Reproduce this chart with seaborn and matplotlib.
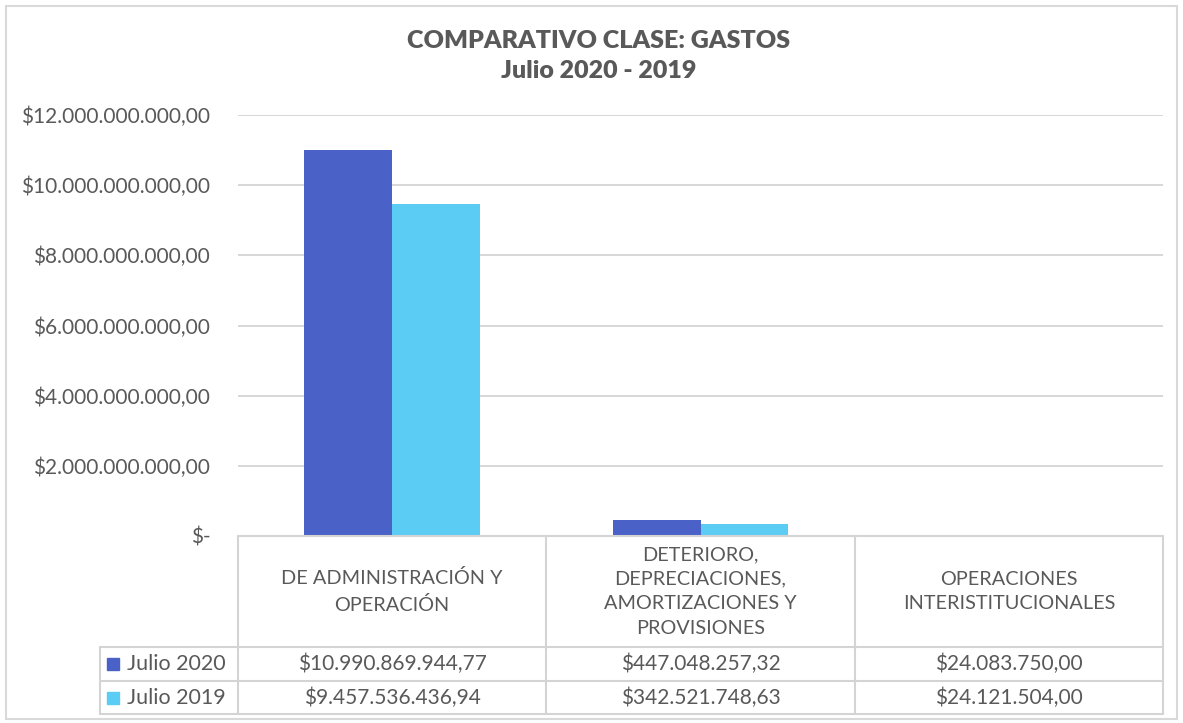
import pandas as pd
import matplotlib.pyplot as plt
import seaborn as sns
from matplotlib.transforms import blended_transform_factory
from matplotlib.patches import Rectangle

# Datos del gráfico
categorias = [
    "DE ADMINISTRACIÓN Y\nOPERACIÓN",
    "DETERIORO,\nDEPRECIACIONES,\nAMORTIZACIONES Y\nPROVISIONES",
    "OPERACIONES\nINTERISTITUCIONALES",
]
periodos = ["Julio 2020", "Julio 2019"]
julio_2020 = [10990869944.77, 447048257.32, 24083750.00]
julio_2019 = [9457536436.94, 342521748.63, 24121504.00]
colores = ["#4A62C7", "#5BCCF4"]
y_ticks = [0, 2e9, 4e9, 6e9, 8e9, 10e9, 12e9]


def pesos(v):
    s = f"{v:,.2f}"
    return "$" + s.replace(",", "X").replace(".", ",").replace("X", ".")


data = pd.DataFrame({
    "categoria": categorias * 2,
    "periodo": [periodos[0]] * 3 + [periodos[1]] * 3,
    "valor": julio_2020 + julio_2019,
})

sns.set_theme(style="white")
plt.rcParams["font.family"] = ["Lato", "DejaVu Sans"]
gris = "#595959"
linea = "#D4D4D4"

W, H = 1183, 723
fig = plt.figure(figsize=(W / 100, H / 100), dpi=100)
ax = fig.add_axes([238 / W, 1 - 536 / H, (1163 - 238) / W, (536 - 115) / H])

sns.barplot(data=data, x="categoria", y="valor", hue="periodo",
            hue_order=periodos, palette=colores, width=0.57,
            saturation=1, linewidth=0, legend=False, ax=ax)

ax.set_xlim(-0.5, 2.5)
ax.set_ylim(0, 12e9)
ax.set_yticks(y_ticks)
ax.set_yticklabels(["$-"] + [pesos(t) for t in y_ticks[1:]])
ax.tick_params(axis="y", length=0, pad=20, labelsize=15, labelcolor=gris)
ax.set_xticks([])
ax.set_xlabel("")
ax.set_ylabel("")
ax.grid(axis="y", color=linea, linewidth=1.3)
ax.set_axisbelow(True)
for s in ax.spines.values():
    s.set_visible(False)

# Título
fig.text(599 / W, 1 - 56 / H, "COMPARATIVO CLASE: GASTOS\nJulio 2020 - 2019",
         ha="center", va="center", fontsize=18, fontweight="heavy",
         color=gris, linespacing=1.45)

# Tabla de datos bajo el eje
tr = blended_transform_factory(ax.transData, fig.transFigure)
x_leg = -0.5 - 138 / 308
y_top, y_h1, y_r1, y_r2 = [1 - p / H for p in (536, 647, 681, 714)]
kw = dict(color=linea, linewidth=1.5, transform=tr, clip_on=False)
ax.plot([-0.5, 2.5], [y_top, y_top], **kw)
for y in (y_h1, y_r1, y_r2):
    ax.plot([x_leg, 2.5], [y, y], **kw)
for x in (-0.5, 0.5, 1.5, 2.5):
    ax.plot([x, x], [y_top, y_r2], **kw)
ax.plot([x_leg, x_leg], [y_h1, y_r2], **kw)

for i, cat in enumerate(categorias):
    ax.text(i, (y_top + y_h1) / 2, cat, transform=tr, ha="center", va="center",
            fontsize=14.3, color=gris, linespacing=1.55)

filas = [(julio_2020, y_h1, y_r1), (julio_2019, y_r1, y_r2)]
for (vals, ya, yb), per, col in zip(filas, periodos, colores):
    ym = (ya + yb) / 2
    for i, v in enumerate(vals):
        ax.text(i, ym, pesos(v), transform=tr, ha="center", va="center",
                fontsize=15, color=gris)
    ax.plot([x_leg + 13 / 308], [ym], marker="s", markersize=8, color=col,
            transform=tr, clip_on=False)
    ax.text(x_leg + 27 / 308, ym, per, transform=tr, ha="left", va="center",
            fontsize=15.5, color=gris)

# Marco exterior
fig.add_artist(Rectangle((6 / W, 4 / H), 1 - 12 / W, 1 - 10 / H,
                         transform=fig.transFigure, fill=False,
                         edgecolor="#D9D9D9", linewidth=1.5))

fig.savefig("out.png", dpi=100)
